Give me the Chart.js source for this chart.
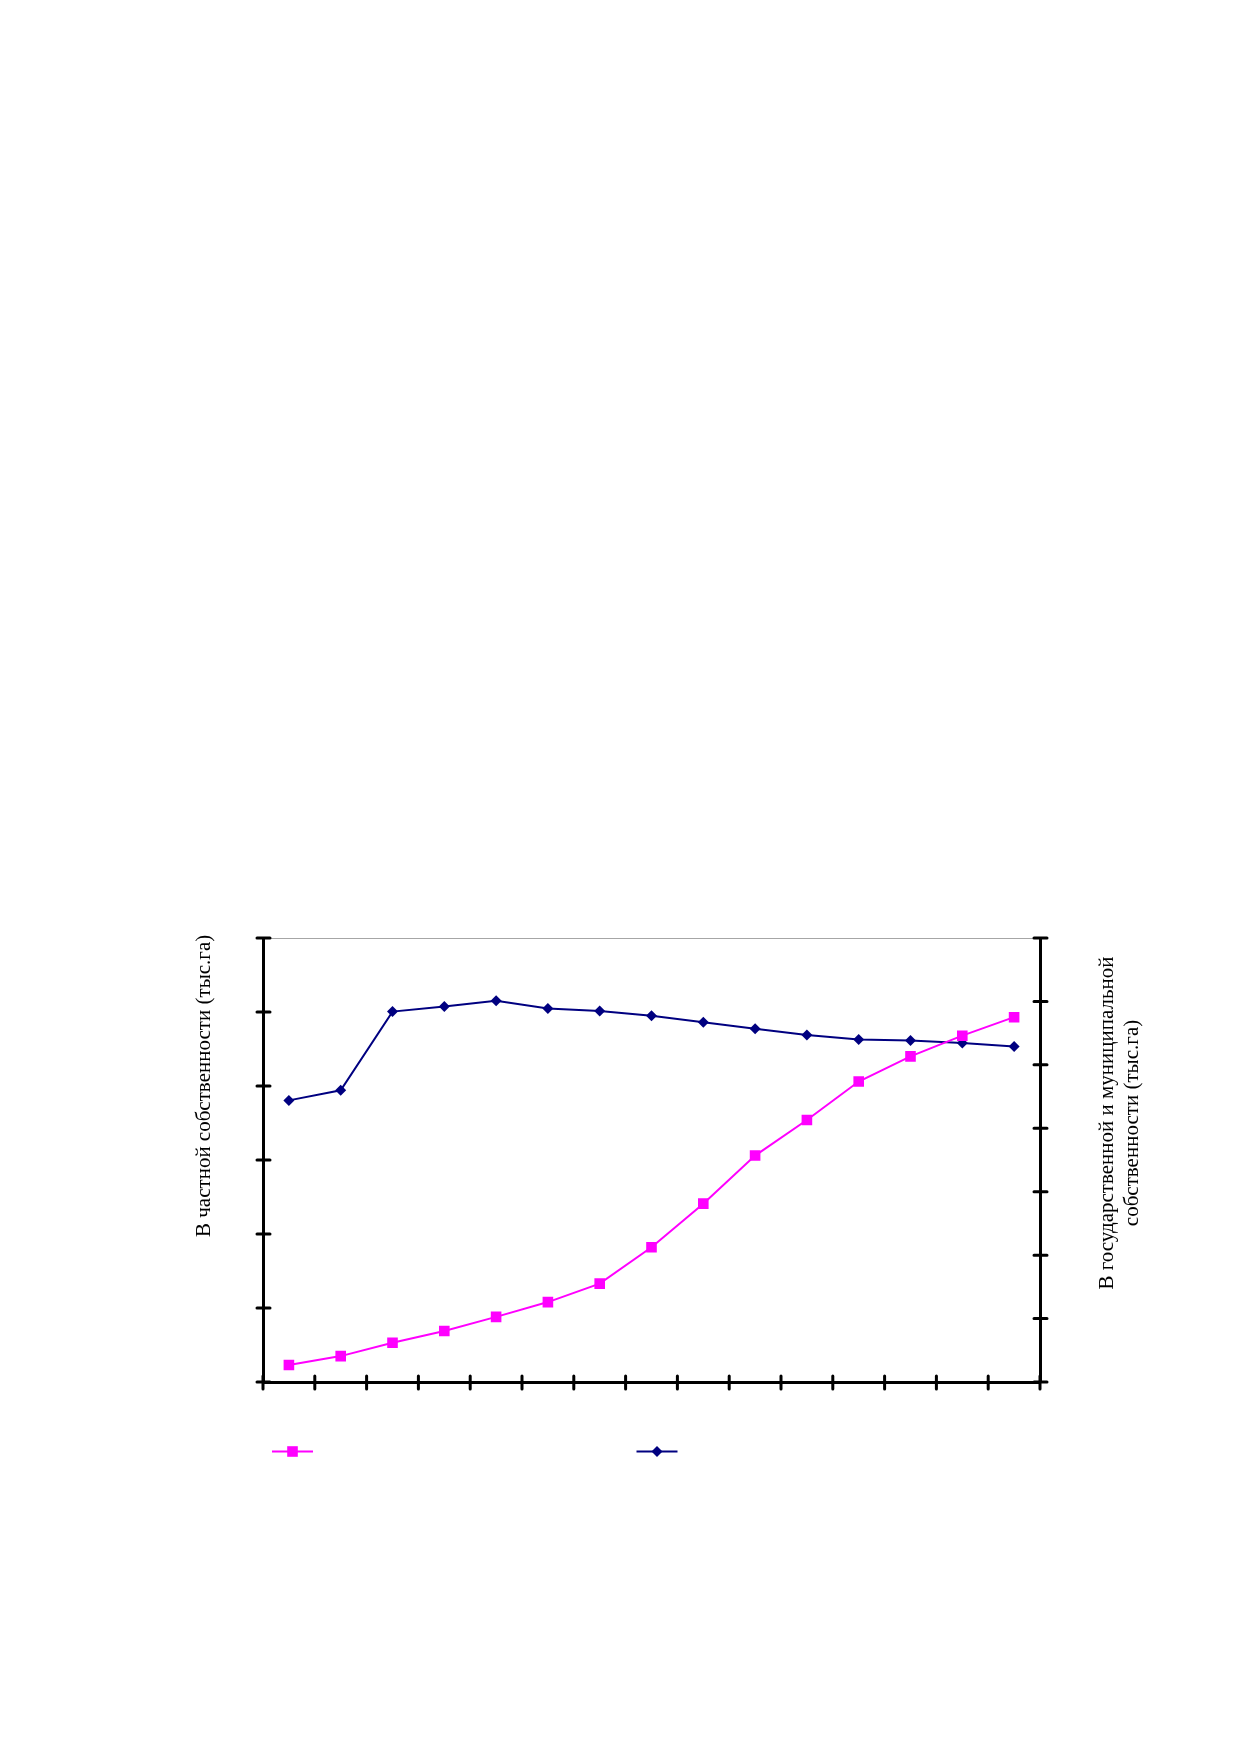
<!DOCTYPE html>
<html lang="ru">
<head>
    <meta charset="UTF-8">
    <title>Земли в частной и государственной собственности</title>
    <script src="https://cdn.jsdelivr.net/npm/chart.js"></script>
    <style>
        html, body {
            margin: 0;
            padding: 0;
            background: #ffffff;
        }
        #wrap {
            position: absolute;
            left: 0;
            top: 0;
            width: 1239px;
            height: 1754px;
        }
    </style>
</head>
<body>

<div id="wrap">
    <canvas id="landChart" width="1239" height="1754"></canvas>
</div>

<script>
    // categories (no labels are printed under the axis in the original)
    const periods = ["1", "2", "3", "4", "5", "6", "7", "8", "9", "10", "11", "12", "13", "14", "15"];

    // left axis: private ownership, thousand ha
    const privateLand = [23, 35, 53, 69, 88, 108, 133, 182, 241, 306, 354, 406, 440, 468, 493];
    const privateAxisMax = 600;
    const privateAxisStep = 100;

    // right axis: state and municipal ownership, thousand ha
    const stateLand = [4440, 4600, 5840, 5920, 6010, 5890, 5850, 5775, 5670, 5570, 5470, 5400, 5385, 5345, 5290];
    const stateAxisMax = 7000;
    const stateAxisStep = 1000;

    const leftTitle = "В частной собственности (тыс.га)";
    const rightTitle = ["В государственной и муниципальной", "собственности (тыс.га)"];

    const titleFont = "21px 'Liberation Serif', serif";

    // ticks that cross the axis line, like the office chart
    const crossTicks = {
        id: "crossTicks",
        afterDraw(chart) {
            const ctx = chart.ctx;
            const area = chart.chartArea;
            const x = chart.scales.x;
            const yl = chart.scales.y;
            const yr = chart.scales.y2;
            ctx.save();
            ctx.strokeStyle = "#000000";
            ctx.lineWidth = 3;
            ctx.lineCap = "round";
            ctx.beginPath();
            for (let i = 0; i <= periods.length; i++) {
                const px = x.getPixelForValue(i - 0.5);
                ctx.moveTo(px, area.bottom - 6);
                ctx.lineTo(px, area.bottom + 7);
            }
            yl.ticks.forEach(t => {
                const py = yl.getPixelForValue(t.value);
                ctx.moveTo(area.left - 6, py);
                ctx.lineTo(area.left + 7, py);
            });
            yr.ticks.forEach(t => {
                const py = yr.getPixelForValue(t.value);
                ctx.moveTo(area.right - 6, py);
                ctx.lineTo(area.right + 7, py);
            });
            ctx.stroke();
            ctx.restore();
        }
    };

    // rotated axis titles
    const axisTitles = {
        id: "axisTitles",
        afterDraw(chart) {
            const ctx = chart.ctx;
            const area = chart.chartArea;
            ctx.save();
            ctx.fillStyle = "#000000";
            ctx.font = titleFont;
            ctx.textBaseline = "middle";

            ctx.save();
            ctx.translate(area.left - 59, area.bottom - 145);
            ctx.rotate(-Math.PI / 2);
            ctx.textAlign = "left";
            ctx.fillText(leftTitle, 0, 0);
            ctx.restore();

            ctx.save();
            ctx.translate(area.right + 67, area.top + 185);
            ctx.rotate(-Math.PI / 2);
            ctx.textAlign = "center";
            ctx.fillText(rightTitle[0], 0, 0);
            ctx.fillText(rightTitle[1], 0, 25);
            ctx.restore();

            ctx.restore();
        }
    };

    // legend: line with marker, no text
    const markerLegend = {
        id: "markerLegend",
        afterDraw(chart) {
            const ctx = chart.ctx;
            const area = chart.chartArea;
            const y = area.bottom + 69.5;
            const spots = [area.left + 29.5, area.left + 394];
            chart.data.datasets.forEach((ds, i) => {
                const cx = spots[i];
                ctx.save();
                ctx.strokeStyle = ds.borderColor;
                ctx.lineWidth = 2;
                ctx.beginPath();
                ctx.moveTo(cx - 20.5, y);
                ctx.lineTo(cx + 20.5, y);
                ctx.stroke();
                ctx.fillStyle = ds.pointBackgroundColor;
                ctx.beginPath();
                if (ds.pointStyle === "rect") {
                    const h = ds.pointRadius * Math.SQRT1_2;
                    ctx.rect(cx - h, y - h, 2 * h, 2 * h);
                } else {
                    const r = ds.pointRadius;
                    ctx.moveTo(cx - r, y);
                    ctx.lineTo(cx, y - r);
                    ctx.lineTo(cx + r, y);
                    ctx.lineTo(cx, y + r);
                    ctx.closePath();
                }
                ctx.fill();
                ctx.restore();
            });
        }
    };

    const zeroWidth = s => { s.width = 0; };
    const zeroHeight = s => { s.height = 0; };

    new Chart(document.getElementById("landChart"), {
        type: "line",
        data: {
            labels: periods,
            datasets: [
                {
                    label: "В частной собственности",
                    data: privateLand,
                    yAxisID: "y",
                    borderColor: "#ff00ff",
                    backgroundColor: "#ff00ff",
                    borderWidth: 2,
                    pointStyle: "rect",
                    pointRadius: 7.5,
                    pointBackgroundColor: "#ff00ff",
                    pointBorderColor: "#ff00ff",
                    pointBorderWidth: 0,
                    tension: 0
                },
                {
                    label: "В государственной и муниципальной собственности",
                    data: stateLand,
                    yAxisID: "y2",
                    borderColor: "#000080",
                    backgroundColor: "#000080",
                    borderWidth: 2,
                    pointStyle: "rectRot",
                    pointRadius: 5.5,
                    pointBackgroundColor: "#000080",
                    pointBorderColor: "#000080",
                    pointBorderWidth: 0,
                    tension: 0
                }
            ]
        },
        options: {
            responsive: false,
            animation: false,
            devicePixelRatio: 1,
            layout: {
                padding: { left: 263, right: 199, top: 938, bottom: 372 }
            },
            scales: {
                x: {
                    position: "bottom",
                    offset: true,
                    afterFit: zeroHeight,
                    ticks: { display: false },
                    grid: { display: false },
                    border: { display: true, color: "#000000", width: 3 }
                },
                xTop: {
                    type: "linear",
                    position: "top",
                    afterFit: zeroHeight,
                    ticks: { display: false },
                    grid: { display: false },
                    border: { display: true, color: "#a6a6a6", width: 1 }
                },
                y: {
                    position: "left",
                    min: 0,
                    max: privateAxisMax,
                    afterFit: zeroWidth,
                    ticks: { display: false, stepSize: privateAxisStep },
                    grid: { display: false },
                    border: { display: true, color: "#000000", width: 3 }
                },
                y2: {
                    position: "right",
                    min: 0,
                    max: stateAxisMax,
                    afterFit: zeroWidth,
                    ticks: { display: false, stepSize: stateAxisStep },
                    grid: { display: false },
                    border: { display: true, color: "#000000", width: 3 }
                }
            },
            plugins: {
                legend: { display: false },
                tooltip: { enabled: false }
            }
        },
        plugins: [crossTicks, axisTitles, markerLegend]
    });
</script>

</body>
</html>
